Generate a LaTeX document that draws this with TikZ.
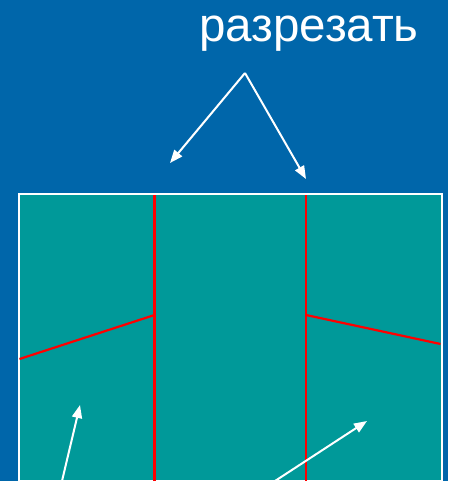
\documentclass[tikz,border=0pt]{standalone}
\usepackage{fontspec}
\setmainfont{Liberation Sans}
\usetikzlibrary{arrows.meta}
\definecolor{bgblue}{RGB}{0,102,170}
\definecolor{panel}{RGB}{0,153,153}
\definecolor{cutred}{RGB}{255,0,0}
\begin{document}
\begin{tikzpicture}[x=1pt,y=-1pt,
  arr/.style={draw=white,line width=2pt,-{Triangle[length=13pt,width=10pt]}},
  cut/.style={draw=cutred,line width=2.2pt},
  lbl/.style={text=white,font=\fontsize{47.5pt}{50pt}\selectfont,inner sep=0pt}]
\fill[bgblue] (0,0) rectangle (448,481);
\useasboundingbox (0,0) rectangle (448,481);
\draw[fill=panel,draw=white,line width=2pt] (18.5,194) rectangle (441.5,480.5);
% cut lines
\coordinate (lt) at (154.5,195);
\coordinate (lb) at (154.5,481);
\coordinate (rt) at (306,195);
\coordinate (rb) at (306,481);
\coordinate (lm) at (154.5,315);
\coordinate (rm) at (306,315);
\coordinate (le) at (19.5,359);
\coordinate (re) at (440.5,344);
\draw[cut] (lt) -- (lb);
\draw[cut] (rt) -- (rb);
\draw[cut] (le) -- (lm);
\draw[cut] (rm) -- (re);
% label
\node[lbl,anchor=base] (cutlabel) at (309,42) {разрезать};
\coordinate (apex) at (245,73);
\coordinate (tipl) at (170,163);
\coordinate (tipr) at (306,179);
\draw[arr] (apex) -- (tipl);
\draw[arr] (apex) -- (tipr);
% bottom arrows
\coordinate (b1s) at (62,481);
\coordinate (b1e) at (80,405);
\coordinate (b2s) at (275,481);
\coordinate (b2e) at (367,421);
\draw[arr] (b1s) -- (b1e);
\draw[arr] (b2s) -- (b2e);
\end{tikzpicture}
\end{document}
